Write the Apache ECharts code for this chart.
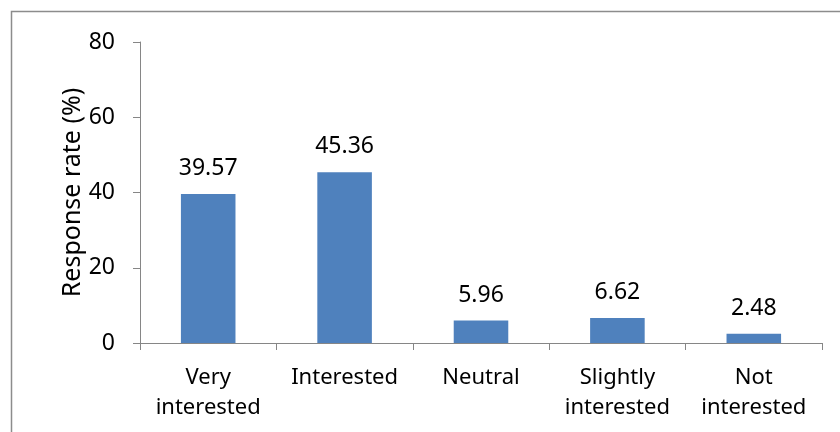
<!DOCTYPE html>
<html><head><meta charset="utf-8">
<script src="https://cdn.jsdelivr.net/npm/echarts@6/dist/echarts.min.js"></script>
<style>html,body{margin:0;padding:0;background:#fff}#c{width:840px;height:432px}</style>
</head><body><div id="c"></div>
<script>
const categories = ["Very\ninterested", "Interested", "Neutral", "Slightly\ninterested", "Not\ninterested"];
const values = [39.57, 45.36, 5.96, 6.62, 2.48];
const yTicks = [0, 20, 40, 60, 80];
const yName = "Response rate (%)";

const chart = echarts.init(document.getElementById('c'), null, {renderer: 'canvas'});
const font = '"Noto Sans", "Open Sans", sans-serif';
chart.setOption({
  animation: false,
  backgroundColor: '#fff',
  graphic: [{type: 'rect', shape: {x: 11.5, y: 11.5, width: 1000, height: 1000}, style: {fill: 'none', stroke: '#8c8c8c', lineWidth: 1.5}, silent: true}],
  grid: {left: 140, right: 18, top: 42, bottom: 89},
  xAxis: {
    type: 'category', data: categories,
    axisLine: {lineStyle: {color: '#868686', width: 1}},
    axisTick: {show: true, length: 7, alignWithLabel: false, lineStyle: {color: '#868686'}},
    axisLabel: {color: '#000', fontSize: 22, fontFamily: font, lineHeight: 30, margin: 20, interval: 0}
  },
  yAxis: {
    type: 'value', min: yTicks[0], max: yTicks[yTicks.length - 1], interval: 20,
    name: yName, nameLocation: 'middle', nameGap: 55, nameRotate: 90, nameMoveOverlap: false,
    nameTextStyle: {color: '#000', fontSize: 25, fontFamily: font},
    axisLine: {show: true, lineStyle: {color: '#868686', width: 1}},
    axisTick: {show: true, length: 7, inside: false, lineStyle: {color: '#868686'}},
    splitLine: {show: false},
    axisLabel: {color: '#000', fontSize: 23, fontFamily: font, margin: 25}
  },
  series: [{
    type: 'bar', data: values, barWidth: '40%',
    itemStyle: {color: '#4F81BD'},
    label: {show: true, position: 'top', distance: 14, color: '#000', fontSize: 23, fontFamily: font,
      formatter: p => p.value.toFixed(2)}
  }]
});
</script></body></html>
